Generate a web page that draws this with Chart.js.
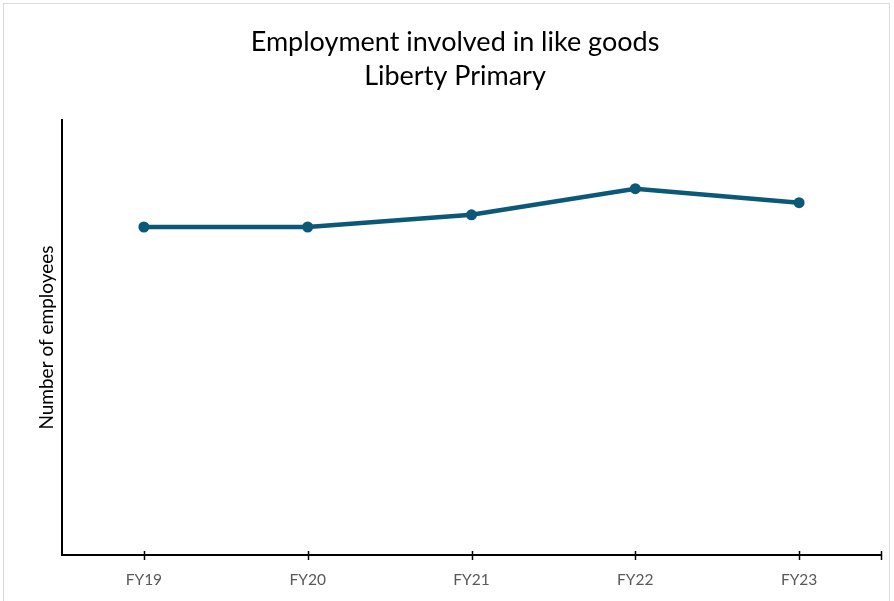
<!DOCTYPE html>
<html>
<head>
<meta charset="utf-8">
<script src="https://cdn.jsdelivr.net/npm/chart.js@4"></script>
<style>
  html, body { margin: 0; padding: 0; background: #fff; }
  #wrap { width: 894px; height: 601px; position: relative; }
</style>
</head>
<body>
<div id="wrap"><canvas id="chart" width="894" height="601"></canvas></div>
<script>
// data (y axis has no labels, so scale is a guess)
const years = ['FY19', 'FY20', 'FY21', 'FY22', 'FY23'];
const employees = [37.7, 37.7, 39.1, 42.1, 40.5];
const titleLines = ['Employment involved in like goods', 'Liberty Primary'];

const lineColor = '#0c5878';

// light frame around the whole picture + two-line title centred on the frame
const framePlugin = {
    id: 'frame',
    beforeDraw(chart) {
        const ctx = chart.ctx;
        ctx.save();
        ctx.strokeStyle = '#d9d9d9';
        ctx.lineWidth = 1;
        ctx.strokeRect(3.5, 3.5, 886, 640);
        ctx.fillStyle = '#000';
        ctx.font = '27px Lato';
        ctx.textAlign = 'center';
        ctx.textBaseline = 'middle';
        titleLines.forEach((t, i) => ctx.fillText(t, 455, 42 + i * 34));
        ctx.restore();
    }
};

// tick marks crossing the x axis, plus one at the right end
const xTicksPlugin = {
    id: 'xTicks',
    afterDraw(chart) {
        const ctx = chart.ctx;
        const xs = chart.scales.x;
        const y = chart.chartArea.bottom;
        const pos = xs.ticks.map((t, i) => xs.getPixelForTick(i));
        pos.push(chart.chartArea.right);
        ctx.save();
        ctx.strokeStyle = '#000';
        ctx.lineWidth = 1.5;
        pos.forEach(x => {
            ctx.beginPath();
            ctx.moveTo(Math.round(x) + 0.5, y - 4);
            ctx.lineTo(Math.round(x) + 0.5, y + 5);
            ctx.stroke();
        });
        ctx.restore();
    }
};

new Chart(document.getElementById('chart'), {
    type: 'line',
    data: {
        labels: years,
        datasets: [{
            data: employees,
            borderColor: lineColor,
            backgroundColor: lineColor,
            borderWidth: 4.5,
            pointRadius: 5.5,
            pointBackgroundColor: lineColor,
            pointBorderWidth: 0,
            tension: 0,
            fill: false
        }]
    },
    options: {
        responsive: false,
        animation: false,
        layout: { padding: { left: 0, right: 13, top: 120, bottom: 0 } },
        plugins: {
            legend: { display: false },
            tooltip: { enabled: false },
            title: { display: false }
        },
        scales: {
            x: {
                offset: true,
                grid: { display: false, drawTicks: false },
                border: { display: true, color: '#000', width: 2 },
                ticks: {
                    color: '#595959',
                    padding: 16,
                    font: { family: 'Lato', size: 15.5 },
                    maxRotation: 0
                },
                afterFit: s => { s.height = 46; }
            },
            y: {
                min: 0,
                max: 50,
                grid: { display: false, drawTicks: false },
                border: { display: true, color: '#000', width: 2 },
                ticks: { display: false },
                title: {
                    display: true,
                    text: 'Number of employees',
                    color: '#000',
                    font: { family: 'Lato', size: 19 },
                    padding: { top: 35, bottom: 0 }
                },
                afterFit: s => { s.width = 62; }
            }
        }
    },
    plugins: [framePlugin, xTicksPlugin]
});
</script>
</body>
</html>
